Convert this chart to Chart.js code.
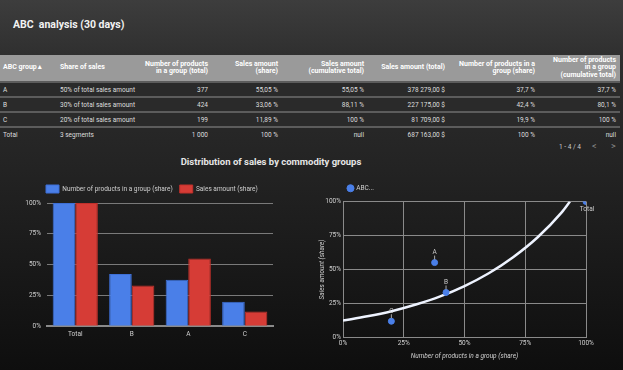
<!DOCTYPE html>
<html>
<head>
<meta charset="utf-8">
<script src="https://cdn.jsdelivr.net/npm/chart.js@4"></script>
<style>
  html, body { margin: 0; padding: 0; }
  body {
    width: 623px; height: 370px; overflow: hidden; position: relative;
    font-family: Roboto, "Noto Sans", sans-serif;
    background: linear-gradient(#3d3d3d 0px, #2e2e2e 60px, #242424 160px, #0e0e0e 370px);
  }
  #title { position: absolute; left: 13px; top: 18px; color: #f2f2f2; font-size: 10.5px; font-weight: bold; }
  #tbl { position: absolute; left: 0; top: 55px; width: 620px; border-collapse: collapse; table-layout: fixed; font-size: 6.5px; color: #dedede; }
  #tbl th { box-sizing: border-box; background: #9a9a9a; color: #fff; font-weight: bold; font-size: 7px; height: 27px; padding: 0 4px 0 3px; line-height: 7.5px; vertical-align: middle; }
  #tbl td { box-sizing: border-box; height: 15px; padding: 0 4px 0 3px; border-top: 2px solid #5c5c5c; background: #2a2a2a; white-space: nowrap; overflow: hidden; }
  #tbl tr.total td { background: transparent; }
  #tbl .l { text-align: left; } #tbl .r { text-align: right; }
  #pager { position: absolute; top: 143px; left: 559px; color: #ccc; font-size: 6.5px; }
  #pager span { position: absolute; top: -2px; color: #888; font-size: 9px; }
  #ctitle { position: absolute; top: 156px; left: 0; width: 542px; text-align: center; color: #e6e6e6; font-size: 9.5px; font-weight: bold; }
  #bar { position: absolute; left: 0; top: 178px; }
  #sc { position: absolute; left: 310px; top: 178px; }
</style>
</head>
<body>
<div id="title">ABC&nbsp; analysis (30 days)</div>
<table id="tbl">
  <thead id="thead"></thead>
  <tbody id="tbody"></tbody>
</table>
<div id="pager">1 - 4 / 4<span style="left:33px">&lt;</span><span style="left:52px">&gt;</span></div>
<div id="ctitle">Distribution of sales by commodity groups</div>
<canvas id="bar" width="310" height="170"></canvas>
<canvas id="sc" width="300" height="186"></canvas>
<script>
// Tabelle
const tableHeaders = ['ABC group \u25B4', 'Share of sales', 'Number of products<br>in a group (total)', 'Sales amount<br>(share)',
  'Sales amount<br>(cumulative total)', 'Sales amount (total)', 'Number of products in a<br>group (share)',
  'Number of products<br>in a group<br>(cumulative total)'];
const colWidths = [57, 83, 72, 70, 86, 81, 90, 81];
const tableRows = [
  ['A', '50% of total sales amount', '377', '55,05 %', '55,05 %', '378 279,00 $', '37,7 %', '37,7 %'],
  ['B', '30% of total sales amount', '424', '33,06 %', '88,11 %', '227 175,00 $', '42,4 %', '80,1 %'],
  ['C', '20% of total sales amount', '199', '11,89 %', '100 %', '81 709,00 $', '19,9 %', '100 %'],
  ['Total', '3 segments', '1 000', '100 %', 'null', '687 163,00 $', '100 %', 'null']
];

// Diagramme
const barLabels = ['Total', 'B', 'A', 'C'];
const productShare = [100, 42.4, 37.7, 19.9];
const salesShare = [100, 33.06, 55.05, 11.89];

const pointNames = ['Total', 'A', 'B', 'C'];
const pointX = [100, 37.7, 42.4, 19.9];
const pointY = [100, 55.05, 33.06, 11.89];

// Trendlinie
const trendX = [0, 10, 20, 30, 40, 50, 60, 70, 80, 90, 93.4];
const trendY = [12.4, 15.5, 19.3, 24.2, 30.2, 37.8, 47.2, 59, 73.5, 92, 100];

const thead = document.getElementById('thead');
thead.innerHTML = '<tr>' + tableHeaders.map((h, i) =>
  `<th class="${i < 2 ? 'l' : 'r'}" style="width:${colWidths[i]}px">${h}</th>`).join('') + '</tr>';
document.getElementById('tbody').innerHTML = tableRows.map((r, ri) =>
  `<tr class="${ri === 3 ? 'total' : ''}">` + r.map((c, i) => `<td class="${i < 2 ? 'l' : 'r'}">${c}</td>`).join('') + '</tr>').join('');

Chart.defaults.font.family = 'Roboto, "Noto Sans", sans-serif';
Chart.defaults.font.size = 6.5;
Chart.defaults.color = '#cccccc';
Chart.defaults.animation = false;

const pct = v => v + '%';

// Legende nach links schieben
const legendShift = {
  id: 'legendShift',
  beforeDraw(chart, args, opts) {
    if (chart.legend) chart.legend.left = opts.left;
  }
};

new Chart(document.getElementById('bar'), {
  type: 'bar',
  data: {
    labels: barLabels,
    datasets: [
      { label: 'Number of products in a group (share)', data: productShare, backgroundColor: '#4a7fe8', borderColor: '#3d6fd6', borderWidth: 1 },
      { label: 'Sales amount (share)', data: salesShare, backgroundColor: '#d63c36', borderColor: '#c0302b', borderWidth: 1 }
    ]
  },
  options: {
    responsive: false,
    layout: { padding: { left: 10, right: 37, top: 0, bottom: 6 } },
    plugins: {
      legend: { align: 'start', labels: { boxWidth: 13, boxHeight: 8, padding: 7, color: '#d0d0d0' } },
      legendShift: { left: 39 },
      tooltip: { enabled: false }
    },
    datasets: { bar: { categoryPercentage: 0.8, barPercentage: 1 } },
    scales: {
      x: { grid: { display: false, drawTicks: false }, border: { color: '#8a8a8a', width: 2 }, ticks: { color: '#d0d0d0', padding: 4 } },
      y: {
        min: 0, max: 100,
        ticks: { stepSize: 25, callback: pct, color: '#d0d0d0', padding: 6 },
        grid: { color: '#7a7a7a', drawTicks: false },
        border: { display: false },
        afterFit: s => { s.width = 37; }
      }
    }
  },
  plugins: [legendShift]
});

const pointLabels = {
  id: 'pointLabels',
  afterDatasetsDraw(chart) {
    const { ctx, scales: { x, y } } = chart;
    ctx.save();
    ctx.font = '6.5px Roboto, sans-serif';
    ctx.fillStyle = '#cccccc';
    ctx.strokeStyle = '#aaaaaa';
    ctx.lineWidth = 1;
    ctx.textAlign = 'center';
    pointNames.forEach((n, i) => {
      const px = x.getPixelForValue(pointX[i]);
      const py = y.getPixelForValue(pointY[i]);
      if (n === 'Total') {
        ctx.textBaseline = 'top';
        ctx.fillText(n, px + 1, py + 5);
      } else {
        ctx.beginPath(); ctx.moveTo(px, py - 3); ctx.lineTo(px, py - 7); ctx.stroke();
        ctx.textBaseline = 'bottom';
        ctx.fillText(n, px, py - 7);
      }
    });
    ctx.restore();
  }
};

new Chart(document.getElementById('sc'), {
  type: 'scatter',
  data: {
    datasets: [
      { label: 'ABC...', data: pointX.map((v, i) => ({ x: v, y: pointY[i] })), backgroundColor: '#4a7fe8', borderColor: '#4a7fe8', pointRadius: 3 },
      { label: 'trend', data: trendX.map((v, i) => ({ x: v, y: trendY[i] })), showLine: true, borderColor: '#eef3ff', borderWidth: 2.5, pointRadius: 0, cubicInterpolationMode: 'monotone' }
    ]
  },
  options: {
    responsive: false,
    layout: { padding: { left: 8, right: 24, top: 0, bottom: 4 } },
    plugins: {
      legend: { align: 'start', labels: { filter: it => it.datasetIndex === 0, usePointStyle: true, pointStyle: 'circle', boxWidth: 5, boxHeight: 5, padding: 7, color: '#d0d0d0' } },
      legendShift: { left: 31 },
      tooltip: { enabled: false }
    },
    scales: {
      x: {
        min: 0, max: 100,
        ticks: { stepSize: 25, callback: pct, color: '#d0d0d0', padding: 2 },
        grid: { color: '#8a8a8a', drawTicks: false },
        border: { color: '#8a8a8a' },
        title: { display: true, text: 'Number of products in a group (share)', font: { style: 'italic', size: 6.5 }, color: '#d0d0d0', padding: { top: 3, bottom: 0 } }
      },
      y: {
        min: 0, max: 100,
        ticks: { stepSize: 25, callback: pct, color: '#d0d0d0', padding: 2 },
        grid: { color: '#8a8a8a', drawTicks: false },
        border: { color: '#8a8a8a' },
        title: { display: true, text: 'Sales amount (share)', font: { style: 'italic', size: 6.5 }, color: '#d0d0d0', padding: { top: 0, bottom: 3 } },
        afterFit: s => { s.width = 25; }
      }
    }
  },
  plugins: [pointLabels, legendShift]
});
</script>
</body>
</html>
